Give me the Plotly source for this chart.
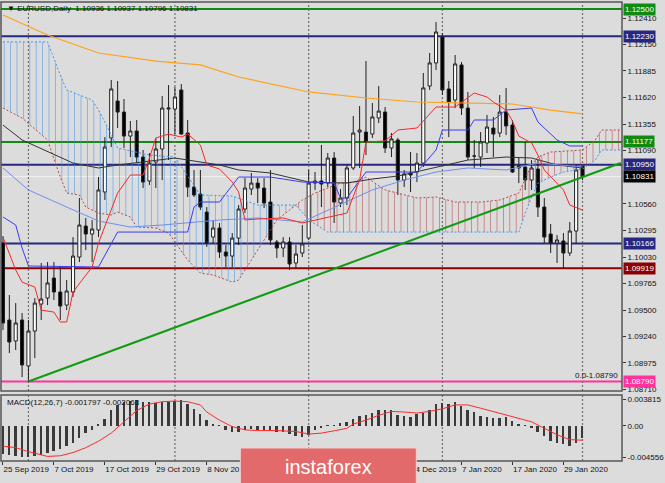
import plotly.graph_objects as go

# ---------------- data ----------------
tick_idx = [0, 8, 16, 24, 32, 40, 48, 56, 64, 72, 80, 88]
# labels at 40, 48 and 56 are hidden under the watermark in the reference
tick_text = ["25 Sep 2019", "7 Oct 2019", "17 Oct 2019", "29 Oct 2019", "8 Nov 2019",
             "", "", "", "24 Dec 2019", "7 Jan 2020",
             "17 Jan 2020", "29 Jan 2020"]
month_sep_idx = [4, 27, 48, 69, 91]

opens = [1.10170, 1.09403, 1.09194, 1.09403, 1.08945, 1.09293, 1.09562, 1.09622, 1.09821, 1.09682,
         1.09552, 1.09682, 1.10030, 1.10339, 1.10259, 1.10299, 1.10678, 1.11216, 1.11584, 1.11474,
         1.11235, 1.11285, 1.11026, 1.10787, 1.10976, 1.11106, 1.11504, 1.11504, 1.11694, 1.11265,
         1.10727, 1.10658, 1.10478, 1.10229, 1.10319, 1.10080, 1.10040, 1.10219, 1.10508, 1.10707,
         1.10767, 1.10717, 1.10578, 1.10180, 1.10120, 1.10180, 1.09971, 1.10070, 1.10219, 1.10767,
         1.10787, 1.10767, 1.11016, 1.10568, 1.10618, 1.10917, 1.11275, 1.11275, 1.11255, 1.11415,
         1.11474, 1.11116, 1.11196, 1.10797, 1.10867, 1.10877, 1.10966, 1.11733, 1.11963, 1.12221,
         1.11704, 1.11594, 1.11943, 1.11514, 1.11036, 1.11026, 1.11166, 1.11315, 1.11265, 1.11474,
         1.11345, 1.10937, 1.10927, 1.10797, 1.10907, 1.10528, 1.10259, 1.10170, 1.10190, 1.10070,
         1.10289, 1.10936]
highs = [1.10239, 1.09652, 1.09572, 1.09473, 1.09403, 1.09622, 1.09971, 1.09980, 1.09980, 1.09941,
         1.09802, 1.10229, 1.10618, 1.10419, 1.10399, 1.10827, 1.11225, 1.11793, 1.11783, 1.11604,
         1.11385, 1.11395, 1.11096, 1.11066, 1.11216, 1.11634, 1.11743, 1.11723, 1.11753, 1.11395,
         1.10897, 1.10897, 1.10528, 1.10399, 1.10369, 1.10150, 1.10269, 1.10548, 1.10817, 1.10867,
         1.10817, 1.10817, 1.10897, 1.10200, 1.10229, 1.10229, 1.10150, 1.10349, 1.10897, 1.10877,
         1.11146, 1.11066, 1.11076, 1.10707, 1.10947, 1.11435, 1.11534, 1.11982, 1.11564, 1.11733,
         1.11524, 1.11265, 1.11216, 1.10897, 1.11076, 1.11066, 1.11863, 1.12062, 1.12371, 1.12261,
         1.11783, 1.12042, 1.11972, 1.11674, 1.11196, 1.11275, 1.11445, 1.11425, 1.11644, 1.11714,
         1.11395, 1.11026, 1.11176, 1.10996, 1.10996, 1.10618, 1.10359, 1.10249, 1.10269, 1.10379,
         1.10947, 1.10937]
lows = [1.09303, 1.09074, 1.09104, 1.08835, 1.08790, 1.09024, 1.09403, 1.09552, 1.09602, 1.09403,
        1.09502, 1.09632, 1.09980, 1.10100, 1.09980, 1.10229, 1.10598, 1.11126, 1.11315, 1.11116,
        1.11026, 1.10966, 1.10717, 1.10747, 1.10717, 1.10797, 1.10996, 1.11255, 1.11245, 1.10628,
        1.10628, 1.10498, 1.10130, 1.10170, 1.10020, 1.09931, 1.09931, 1.10150, 1.10468, 1.10648,
        1.10568, 1.10518, 1.10150, 1.10020, 1.10030, 1.09901, 1.09921, 1.10030, 1.10200, 1.10698,
        1.10528, 1.10727, 1.10369, 1.10528, 1.10548, 1.10897, 1.10917, 1.11046, 1.11216, 1.11365,
        1.11066, 1.11026, 1.10648, 1.10727, 1.10678, 1.10777, 1.10927, 1.11694, 1.11893, 1.11644,
        1.11225, 1.11514, 1.11445, 1.10996, 1.10917, 1.10927, 1.11066, 1.11026, 1.11225, 1.11245,
        1.10867, 1.10767, 1.10698, 1.10698, 1.10429, 1.10170, 1.10070, 1.09971, 1.09921, 1.10040,
        1.10170, 1.10796]
closes = [1.09373, 1.09184, 1.09373, 1.08955, 1.09293, 1.09572, 1.09612, 1.09772, 1.09682, 1.09542,
          1.09692, 1.10040, 1.10349, 1.10259, 1.10309, 1.10698, 1.11126, 1.11704, 1.11474, 1.11235,
          1.11285, 1.11026, 1.10777, 1.10966, 1.11106, 1.11514, 1.11514, 1.11624, 1.11255, 1.10727,
          1.10648, 1.10528, 1.10170, 1.10319, 1.10080, 1.10040, 1.10219, 1.10508, 1.10717, 1.10767,
          1.10717, 1.10568, 1.10200, 1.10120, 1.10180, 1.09961, 1.10060, 1.10160, 1.10767, 1.10787,
          1.10757, 1.11016, 1.10578, 1.10618, 1.10917, 1.11265, 1.11295, 1.11176, 1.11425, 1.11484,
          1.11116, 1.11206, 1.10797, 1.10857, 1.10847, 1.10966, 1.11714, 1.11963, 1.12271, 1.11694,
          1.11574, 1.11953, 1.11514, 1.11026, 1.11036, 1.11176, 1.11325, 1.11255, 1.11474, 1.11335,
          1.10877, 1.10917, 1.10797, 1.10917, 1.10528, 1.10229, 1.10170, 1.10200, 1.10070, 1.10289,
          1.10897, 1.10831]
bar_idx = list(range(len(closes)))

# moving averages / ichimoku lines (bar index, price)
ma_orange_x = [0, 7, 15, 24, 31, 37, 48, 57, 65, 80, 86, 91]
ma_orange_y = [1.12441, 1.12241, 1.12062, 1.11982, 1.11943, 1.11823, 1.11674, 1.11614, 1.11574,
               1.11554, 1.11494, 1.11455]
ma_black_x = [0, 3, 11, 15, 18, 27, 34, 37, 42, 48, 54, 58, 62, 68, 73, 79, 83, 87, 91]
ma_black_y = [1.11345, 1.11196, 1.10966, 1.10917, 1.10947, 1.11016, 1.10947, 1.10897, 1.10867,
              1.10777, 1.10767, 1.10807, 1.10837, 1.10927, 1.10996, 1.11026, 1.11016, 1.10947, 1.10917]
ma_lblue_x = [0, 4, 10, 15, 20, 25, 34, 40, 47, 58, 63, 68, 73, 79, 84, 91]
ma_lblue_y = [1.10917, 1.10698, 1.10528, 1.10389, 1.10329, 1.10349, 1.10399, 1.10419, 1.10379,
              1.10698, 1.10797, 1.10877, 1.10917, 1.10897, 1.10966, 1.10927]
kijun_x = [0, 2, 3, 4, 15, 17, 18, 29, 30, 31, 34, 37, 42, 47, 52, 53, 54, 57, 65, 68, 69, 73, 74,
           77, 79, 83, 84, 87, 89, 91]
kijun_y = [1.10429, 1.10349, 1.10120, 1.09941, 1.09931, 1.10170, 1.10279, 1.10279, 1.10528, 1.10578,
           1.10578, 1.10827, 1.10827, 1.10777, 1.10767, 1.10618, 1.10618, 1.10877, 1.10877, 1.11096,
           1.11295, 1.11295, 1.11395, 1.11395, 1.11494, 1.11514, 1.11375, 1.11196, 1.11136, 1.11136]
tenkan_x = [0, 2, 3, 5, 6, 8, 9, 10, 11, 14, 15, 17, 18, 20, 22, 23, 24, 26, 28, 29, 31, 32, 34, 36,
            37, 38, 40, 44, 47, 54, 56, 57, 60, 62, 65, 68, 71, 74, 76, 77, 79, 80, 81, 83, 84, 85,
            88, 89, 91]
tenkan_y = [1.10229, 1.09901, 1.09781, 1.09731, 1.09502, 1.09482, 1.09383, 1.09383, 1.09682, 1.09931,
            1.10170, 1.10508, 1.10668, 1.10847, 1.10847, 1.11016, 1.11216, 1.11255, 1.11225, 1.11255,
            1.11146, 1.10947, 1.10907, 1.10777, 1.10678, 1.10399, 1.10409, 1.10419, 1.10369, 1.10468,
            1.10797, 1.11176, 1.11186, 1.11295, 1.11315, 1.11524, 1.11524, 1.11664, 1.11624, 1.11574,
            1.11494, 1.11385, 1.11235, 1.11166, 1.11046, 1.10897, 1.10698, 1.10548, 1.10498]
span_a_x = [0, 7, 9, 10, 14, 15, 16, 18, 23, 27, 31, 36, 40, 46, 48, 51, 68, 81, 82, 83, 84, 86, 88,
            91, 93, 94, 97]
span_a_y = [1.12172, 1.12172, 1.11843, 1.11694, 1.11594, 1.11494, 1.11375, 1.11116, 1.11046, 1.11026,
            1.10648, 1.10638, 1.10548, 1.10548, 1.10399, 1.10279, 1.10279, 1.10279, 1.10468, 1.10628,
            1.10767, 1.10827, 1.10877, 1.10907, 1.10996, 1.11096, 1.11096]
span_b_x = [0, 3, 7, 9, 10, 12, 13, 15, 17, 18, 20, 21, 24, 26, 27, 29, 31, 33, 36, 37, 40, 43, 45,
            47, 49, 53, 55, 57, 60, 62, 65, 68, 71, 75, 78, 81, 83, 84, 86, 91, 93, 94, 97]
span_b_y = [1.11514, 1.11415, 1.11196, 1.10827, 1.10668, 1.10648, 1.10528, 1.10468, 1.10449, 1.10478,
            1.10429, 1.10329, 1.10319, 1.10269, 1.10180, 1.10000, 1.09871, 1.09851, 1.09781, 1.09801,
            1.10100, 1.10399, 1.10498, 1.10598, 1.10668, 1.10767, 1.10777, 1.10827, 1.10698, 1.10668,
            1.10618, 1.10628, 1.10578, 1.10578, 1.10598, 1.10668, 1.10947, 1.11026, 1.11076, 1.11096,
            1.11196, 1.11295, 1.11295]
cloud_twist_idx = 46

trend_x = [4, 97]
trend_y = [1.08790, 1.10966]

level_vals = [1.12500, 1.12230, 1.11177, 1.10950, 1.10166, 1.09919, 1.08790]
level_text = ["1.12500", "1.12230", "1.11177", "1.10950", "1.10166", "1.09919", "1.08790"]
level_colors = ["#118a11", "#27277f", "#118a11", "#27277f", "#27277f", "#8b0000", "#ff3399"]
bid_price = 1.10831

price_ticks = [1.12410, 1.12150, 1.11885, 1.11620, 1.11355, 1.11090, 1.10560, 1.10295, 1.10030,
               1.09765, 1.09500, 1.09240, 1.08975, 1.08710]

macd_hist = [-0.00400, -0.00420, -0.00440, -0.004556, -0.00450, -0.00440, -0.00420, -0.00385, -0.00360,
             -0.00338, -0.00291, -0.00244, -0.00174, -0.00103, -0.00060, 0.00020, 0.00098, 0.00225,
             0.00305, 0.00352, 0.00366, 0.003815, 0.00352, 0.00342, 0.00333, 0.00342, 0.00352, 0.00366,
             0.00370, 0.00319, 0.00249, 0.00178, 0.00084, 0.00028, 0.00014, -0.00056, -0.00089,
             -0.00080, -0.00056, -0.00042, -0.00056, -0.00056, -0.00070, -0.00080, -0.00089, -0.00117,
             -0.00150, -0.00164, -0.00127, -0.00056, -0.00033, 0.00005, 0.00014, 0.00038, 0.00061,
             0.00098, 0.00145, 0.00164, 0.00192, 0.00225, 0.00239, 0.00225, 0.00155, 0.00145, 0.00131,
             0.00178, 0.00192, 0.00225, 0.00319, 0.00333, 0.00319, 0.00342, 0.00295, 0.00239, 0.00202,
             0.00145, 0.00131, 0.00117, 0.00117, 0.00131, 0.00070, 0.00023, 0.00005, -0.00033,
             -0.00080, -0.00150, -0.00211, -0.00244, -0.00267, -0.00291, -0.00244, -0.001797]
signal_x = [0, 2, 4, 6, 7, 9, 11, 13, 15, 17, 19, 21, 23, 25, 27, 29, 31, 32, 34, 36, 38, 40, 43,
            46, 48, 50, 52, 54, 55, 57, 59, 61, 63, 65, 67, 69, 71, 73, 75, 77, 79, 81, 83, 85, 87,
            89, 91]
signal_y = [-0.00291, -0.00314, -0.00371, -0.00417, -0.00441, -0.00431, -0.00385, -0.00314, -0.00220,
            -0.00103, 0.00061, 0.00225, 0.00319, 0.00352, 0.00361, 0.00352, 0.00305, 0.00202, 0.00084,
            -0.00009, -0.00056, -0.00066, -0.00066, -0.00080, -0.00117, -0.00103, -0.00070, -0.00033,
            0.00028, 0.00084, 0.00155, 0.00211, 0.00202, 0.00188, 0.00211, 0.00249, 0.00305, 0.00305,
            0.00258, 0.00211, 0.00164, 0.00117, 0.00061, -0.00033, -0.00127, -0.00197, -0.002063]
macd_ticks = [0.003815, 0.0, -0.004556]
macd_ticktext = ["0.003815", "0.00", "-0.004556"]

# ---------------- figure ----------------
FONT = "Liberation Sans, Arial, sans-serif"
BG = "#dcdcdc"
fig = go.Figure()

def sel(xs, ys, cond):
    pts = [(a, b) for a, b in zip(xs, ys) if cond(a)]
    return [p[0] for p in pts], [p[1] for p in pts]

# cloud hatching
bx, by = sel(span_b_x, span_b_y, lambda v: v <= cloud_twist_idx)
ax_, ay_ = sel(span_a_x, span_a_y, lambda v: v <= cloud_twist_idx)
fig.add_trace(go.Scatter(x=bx, y=by, mode="lines", line=dict(width=0), hoverinfo="skip"))
fig.add_trace(go.Scatter(x=ax_, y=ay_, mode="lines", line=dict(width=0), fill="tonexty",
                         fillcolor="rgba(0,0,0,0)",
                         fillpattern=dict(shape="|", size=6.4, solidity=0.15, fgcolor="#3c96f0",
                                          fgopacity=0.6, bgcolor="rgba(0,0,0,0)"),
                         hoverinfo="skip"))
ax2, ay2 = sel(span_a_x, span_a_y, lambda v: v >= cloud_twist_idx)
bx2, by2 = sel(span_b_x, span_b_y, lambda v: v >= cloud_twist_idx)
fig.add_trace(go.Scatter(x=ax2, y=ay2, mode="lines", line=dict(width=0), hoverinfo="skip"))
fig.add_trace(go.Scatter(x=bx2, y=by2, mode="lines", line=dict(width=0), fill="tonexty",
                         fillcolor="rgba(0,0,0,0)",
                         fillpattern=dict(shape="|", size=6.4, solidity=0.15, fgcolor="#b84848",
                                          fgopacity=0.6, bgcolor="rgba(0,0,0,0)"),
                         hoverinfo="skip"))
fig.add_trace(go.Scatter(x=span_a_x, y=span_a_y, mode="lines",
                         line=dict(color="#3c96f0", width=1, dash="2px,2px")))
fig.add_trace(go.Scatter(x=span_b_x, y=span_b_y, mode="lines",
                         line=dict(color="#b84848", width=1, dash="2px,2px")))

# moving averages and ichimoku lines
fig.add_trace(go.Scatter(x=ma_orange_x, y=ma_orange_y, mode="lines", line=dict(color="#ffa21a", width=1.2)))
fig.add_trace(go.Scatter(x=ma_black_x, y=ma_black_y, mode="lines", line=dict(color="#333333", width=1)))
fig.add_trace(go.Scatter(x=ma_lblue_x, y=ma_lblue_y, mode="lines", line=dict(color="#6f8ff0", width=1)))
fig.add_trace(go.Scatter(x=kijun_x, y=kijun_y, mode="lines", line=dict(color="#3b3bf5", width=1)))
fig.add_trace(go.Scatter(x=tenkan_x, y=tenkan_y, mode="lines", line=dict(color="#f52a2a", width=1)))
fig.add_trace(go.Scatter(x=trend_x, y=trend_y, mode="lines", line=dict(color="#139a13", width=2)))

# candles
fig.add_trace(go.Candlestick(
    x=bar_idx, open=opens, high=highs, low=lows, close=closes,
    increasing=dict(fillcolor="#ffffff", line=dict(color="#202020", width=1)),
    decreasing=dict(fillcolor="#000000", line=dict(color="#202020", width=1)),
    whiskerwidth=0, hoverinfo="skip"))

# MACD
fig.add_trace(go.Bar(x=bar_idx, y=macd_hist, yaxis="y2", width=0.3,
                     marker=dict(color="#3a3a3a", line=dict(width=0))))
fig.add_trace(go.Scatter(x=signal_x, y=signal_y, yaxis="y2", mode="lines",
                         line=dict(color="#ff2a2a", width=1)))

shapes = []
for v, c in zip(level_vals, level_colors):
    shapes.append(dict(type="line", xref="x domain", x0=0, x1=1, yref="y", y0=v, y1=v,
                       line=dict(color=c, width=2), layer="below"))
shapes.append(dict(type="line", xref="x domain", x0=0, x1=1, yref="y", y0=bid_price, y1=bid_price,
                   line=dict(color="#f2f2f2", width=1), layer="below"))
for s in month_sep_idx:
    for yr in ["y domain", "y2 domain"]:
        shapes.append(dict(type="line", xref="x", x0=s, x1=s, yref=yr, y0=0, y1=1,
                           line=dict(color="#707070", width=1.2, dash="2px,2px"), layer="below"))
for yr in ["y domain", "y2 domain"]:
    shapes.append(dict(type="rect", xref="x domain", x0=0, x1=1, yref=yr, y0=0, y1=1,
                       line=dict(color="#555555", width=1.5), fillcolor="rgba(0,0,0,0)", layer="above"))
# watermark box
shapes.append(dict(type="rect", xref="paper", x0=0.3854, x1=0.6688, yref="paper", y0=-0.06, y1=0.0283,
                   line=dict(color="#f4d0d0", width=1), fillcolor="#e26a6a", layer="above"))

annotations = []
for v, t, c in zip(level_vals, level_text, level_colors):
    annotations.append(dict(xref="paper", x=1, xanchor="left", xshift=1, yref="y", y=v,
                            text=t, showarrow=False, bgcolor=c, borderpad=1,
                            font=dict(color="white", size=8, family=FONT)))
annotations.append(dict(xref="paper", x=1, xanchor="left", xshift=1, yref="y", y=bid_price,
                        text="1.10831", showarrow=False, bgcolor="#000000", borderpad=1,
                        font=dict(color="white", size=8, family=FONT)))
annotations.append(dict(xref="x domain", x=1, xanchor="right", xshift=-2, yref="y", y=1.08790,
                        yanchor="bottom", yshift=0, text="0.0-1.08790", showarrow=False,
                        font=dict(color="#111111", size=8, family=FONT)))
annotations.append(dict(xref="paper", x=0.006, xanchor="left", yref="y domain", y=0.984,
                        yanchor="middle", text="▼ EURUSD,Daily  1.10936 1.10937 1.10796 1.10831",
                        showarrow=False, font=dict(color="#111111", size=8, family=FONT)))
annotations.append(dict(xref="paper", x=0.006, xanchor="left", yref="y2 domain", y=0.88,
                        yanchor="middle", text="MACD(12,26,7) -0.001797 -0.002063",
                        showarrow=False, font=dict(color="#111111", size=8, family=FONT)))
annotations.append(dict(xref="paper", x=0.527, xanchor="center", yref="paper", y=-0.013,
                        yanchor="middle", text="instaforex", showarrow=False,
                        font=dict(color="white", size=20, family=FONT)))

fig.update_layout(
    width=665, height=483, margin=dict(l=1, r=36, t=2, b=22),
    paper_bgcolor=BG, plot_bgcolor=BG, showlegend=False,
    font=dict(family=FONT, size=8, color="#111111"),
    bargap=0,
    xaxis=dict(range=[-0.31, 97.2], anchor="y2", tickvals=tick_idx, ticktext=tick_text,
               ticks="outside", ticklen=3, tickcolor="#333333", ticklabelposition="outside right",
               tickangle=0, showgrid=False, zeroline=False, showline=False,
               rangeslider=dict(visible=False), tickfont=dict(size=8, color="#111111")),
    yaxis=dict(domain=[0.1525, 1], range=[1.08696, 1.12570], side="right", anchor="x",
               tickvals=price_ticks, ticktext=["%.5f" % v for v in price_ticks],
               ticks="outside", ticklen=3, tickcolor="#333333", showgrid=False, zeroline=False,
               tickfont=dict(size=8, color="#111111")),
    yaxis2=dict(domain=[0, 0.1438], range=[-0.00507, 0.00449], side="right", anchor="x",
                tickvals=macd_ticks, ticktext=macd_ticktext, ticks="outside", ticklen=3,
                tickcolor="#333333", showgrid=False, zeroline=False,
                tickfont=dict(size=8, color="#111111")),
    shapes=shapes, annotations=annotations,
)

fig.write_html("out.html", config={"displayModeBar": False},
               post_script="document.body.style.margin='0px';document.body.style.overflow='hidden';")
